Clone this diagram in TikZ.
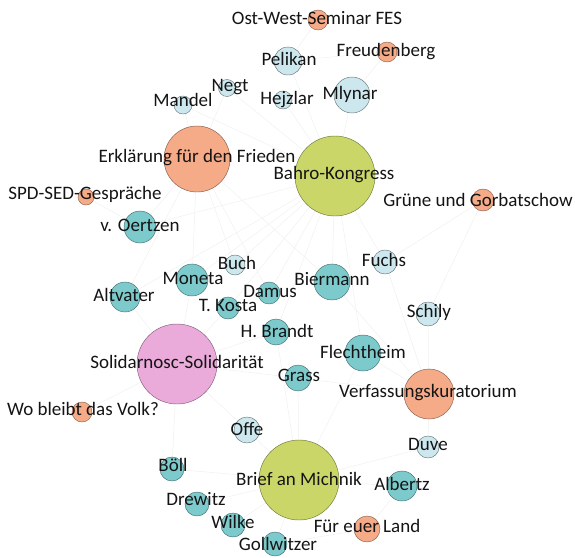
\documentclass[tikz,border=0pt]{standalone}
\usepackage{fontspec}
\setmainfont{Carlito}
\usetikzlibrary{backgrounds}
\definecolor{evOr}{RGB}{245,170,136}
\definecolor{evGr}{RGB}{202,215,104}
\definecolor{evPk}{RGB}{234,170,218}
\definecolor{peTe}{RGB}{124,202,204}
\definecolor{peLi}{RGB}{204,232,238}
\definecolor{txt}{RGB}{20,20,20}
\definecolor{edg}{RGB}{240,240,240}
\tikzset{
  dot/.style={circle, inner sep=0pt, line width=0.45pt},
  orangedot/.style={dot, fill=evOr, draw=evOr!55!black},
  greendot/.style={dot, fill=evGr, draw=evGr!55!black},
  pinkdot/.style={dot, fill=evPk, draw=evPk!55!black},
  tealdot/.style={dot, fill=peTe, draw=peTe!55!black},
  lightdot/.style={dot, fill=peLi, draw=peLi!50!black},
  lbl/.style={anchor=base, inner sep=0pt, text=txt, font=\fontsize{19}{22}\selectfont},
  link/.style={draw=edg, line width=0.5pt}
}
\begin{document}
\begin{tikzpicture}[x=1pt,y=-1pt]
\useasboundingbox (0,0) rectangle (575,557);
% circles
\node[orangedot, minimum size=20pt] (cOWS) at (318,20) {};
\node[orangedot, minimum size=20pt] (cFreud) at (387,52) {};
\node[lightdot, minimum size=28pt] (cPelikan) at (288,61) {};
\node[lightdot, minimum size=17pt] (cNegt) at (227,88) {};
\node[lightdot, minimum size=18pt] (cMandel) at (183,105) {};
\node[lightdot, minimum size=18pt] (cHejzlar) at (283,100) {};
\node[lightdot, minimum size=36pt] (cMlynar) at (352,95) {};
\node[orangedot, minimum size=66pt] (cErkl) at (197,159) {};
\node[greendot, minimum size=80pt] (cBahro) at (335,176) {};
\node[orangedot, minimum size=16pt] (cSPD) at (86,197) {};
\node[orangedot, minimum size=22pt] (cGruene) at (483,200) {};
\node[tealdot, minimum size=32pt] (cOertzen) at (140,227) {};
\node[lightdot, minimum size=20pt] (cBuch) at (235,265) {};
\node[tealdot, minimum size=32pt] (cMoneta) at (192,280) {};
\node[lightdot, minimum size=24pt] (cFuchs) at (385,262) {};
\node[tealdot, minimum size=36pt] (cBiermann) at (332,282) {};
\node[tealdot, minimum size=30pt] (cAltvater) at (125,297) {};
\node[tealdot, minimum size=22pt] (cDamus) at (269,293) {};
\node[tealdot, minimum size=22pt] (cKosta) at (228,308) {};
\node[lightdot, minimum size=24pt] (cSchily) at (428,314) {};
\node[tealdot, minimum size=26pt] (cBrandt) at (276,332) {};
\node[pinkdot, minimum size=80pt] (cSolid) at (177,364) {};
\node[tealdot, minimum size=36pt] (cFlecht) at (363,353) {};
\node[tealdot, minimum size=26pt] (cGrass) at (298,378) {};
\node[orangedot, minimum size=50pt] (cVerf) at (429,394) {};
\node[orangedot, minimum size=20pt] (cVolk) at (82,412) {};
\node[lightdot, minimum size=26pt] (cOffe) at (247,430) {};
\node[tealdot, minimum size=24pt] (cBoell) at (172,469) {};
\node[greendot, minimum size=80pt] (cMichnik) at (299,480) {};
\node[lightdot, minimum size=22pt] (cDuve) at (428,447) {};
\node[tealdot, minimum size=30pt] (cAlbertz) at (402,486) {};
\node[tealdot, minimum size=24pt] (cDrewitz) at (197,504) {};
\node[tealdot, minimum size=24pt] (cWilke) at (233,525) {};
\node[orangedot, minimum size=26pt] (cLand) at (367,529) {};
\node[tealdot, minimum size=24pt] (cGoll) at (275,544) {};
% faint connectors, behind the circles
\begin{scope}[on background layer]
\foreach \p in {cPelikan,cHejzlar,cMlynar,cNegt,cMandel,cBiermann,cFuchs,cDamus,cMoneta,cAltvater,cFlecht,cBuch,cOertzen,cKosta,cBrandt}
  \path[link] (cBahro) -- (\p);
\foreach \p in {cMandel,cNegt,cOertzen,cAltvater,cMoneta,cBuch,cDamus,cBiermann}
  \path[link] (cErkl) -- (\p);
\foreach \p in {cBoell,cDrewitz,cWilke,cGoll,cOffe,cGrass,cAlbertz,cDuve,cFlecht,cBrandt}
  \path[link] (cMichnik) -- (\p);
\foreach \p in {cAltvater,cMoneta,cKosta,cBrandt,cGrass,cBoell,cOffe,cVolk}
  \path[link] (cSolid) -- (\p);
\foreach \p in {cBiermann,cFuchs,cSchily,cFlecht,cDuve,cGrass}
  \path[link] (cVerf) -- (\p);
\path[link] (cLand) -- (cAlbertz);
\path[link] (cLand) -- (cGoll);
\path[link] (cSPD) -- (cOertzen);
\path[link] (cGruene) -- (cFuchs);
\path[link] (cGruene) -- (cSchily);
\path[link] (cOWS) -- (cPelikan);
\path[link] (cFreud) -- (cMlynar);
\path[link] (cFreud) -- (cPelikan);
\end{scope}
% labels
\node[lbl] (lOWS) at (317,24) {Ost-West-Seminar FES};
\node[lbl] (lFreud) at (386,56) {Freudenberg};
\node[lbl] (lPelikan) at (289,65) {Pelikan};
\node[lbl] (lNegt) at (230,91) {Negt};
\node[lbl] (lMandel) at (183,106) {Mandel};
\node[lbl] (lHejzlar) at (287,104) {Hejzlar};
\node[lbl] (lMlynar) at (350,99) {Mlynar};
\node[lbl] (lErkl) at (197,162) {Erklärung für den Frieden};
\node[lbl] (lBahro) at (334,179) {Bahro-Kongress};
\node[lbl] (lSPD) at (85,199) {SPD-SED-Gespräche};
\node[lbl] (lGruene) at (478,206) {Grüne und Gorbatschow};
\node[lbl] (lOertzen) at (140,231) {v. Oertzen};
\node[lbl] (lBuch) at (237,269) {Buch};
\node[lbl] (lMoneta) at (193,284) {Moneta};
\node[lbl] (lFuchs) at (384,266) {Fuchs};
\node[lbl] (lBiermann) at (332,285) {Biermann};
\node[lbl] (lAltvater) at (124,301) {Altvater};
\node[lbl] (lDamus) at (270,297) {Damus};
\node[lbl] (lKosta) at (228,311) {T. Kosta};
\node[lbl] (lSchily) at (429,317) {Schily};
\node[lbl] (lBrandt) at (277,337) {H. Brandt};
\node[lbl] (lSolid) at (177,368) {Solidarnosc-Solidarität};
\node[lbl] (lFlecht) at (363,358) {Flechtheim};
\node[lbl] (lGrass) at (299,381) {Grass};
\node[lbl] (lVerf) at (428,397) {Verfassungskuratorium};
\node[lbl] (lVolk) at (83,415) {Wo bleibt das Volk?};
\node[lbl] (lOffe) at (247,435) {Offe};
\node[lbl] (lBoell) at (173,471) {Böll};
\node[lbl] (lMichnik) at (299,485) {Brief an Michnik};
\node[lbl] (lDuve) at (428,450) {Duve};
\node[lbl] (lAlbertz) at (402,490) {Albertz};
\node[lbl] (lDrewitz) at (196,505) {Drewitz};
\node[lbl] (lWilke) at (233,528) {Wilke};
\node[lbl] (lLand) at (367,532) {Für euer Land};
\node[lbl] (lGoll) at (278,550) {Gollwitzer};
\end{tikzpicture}
\end{document}
